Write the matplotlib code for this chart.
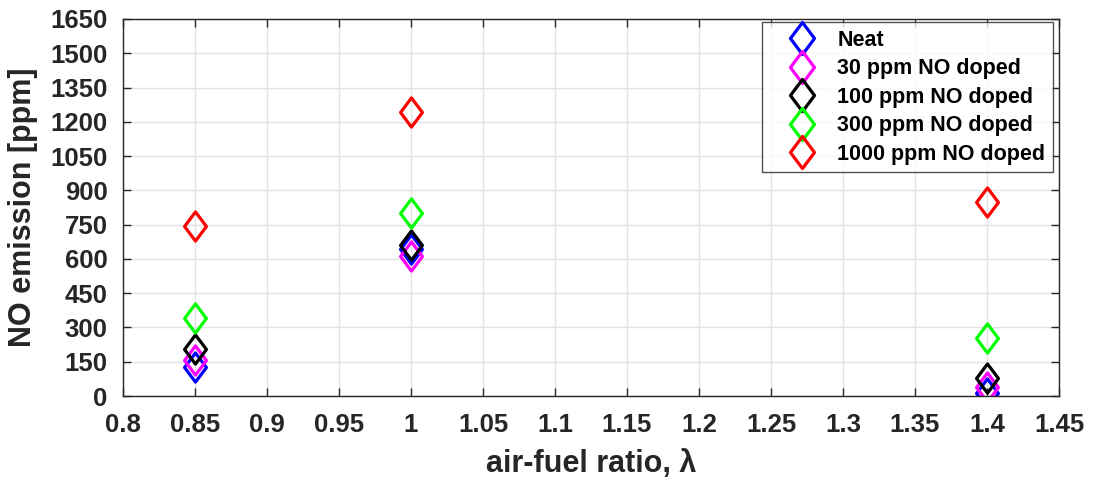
import numpy as np
import matplotlib
matplotlib.use("Agg")
import matplotlib.pyplot as plt
from matplotlib.path import Path

plt.rcParams['font.family'] = ['Liberation Sans', 'DejaVu Sans']
plt.rcParams['font.weight'] = 'bold'

# air-fuel ratio values
lam = [0.85, 1.0, 1.4]

# NO emission [ppm] per case
neat = [128, 645, 12]
ppm30 = [157, 612, 38]
ppm100 = [207, 660, 80]
ppm300 = [343, 800, 256]
ppm1000 = [745, 1245, 848]

series = [
    ("Neat", neat, "#0000ff"),
    ("30 ppm NO doped", ppm30, "#ff00ff"),
    ("100 ppm NO doped", ppm100, "#000000"),
    ("300 ppm NO doped", ppm300, "#00ff00"),
    ("1000 ppm NO doped", ppm1000, "#ff0000"),
]

xticks = [0.8, 0.85, 0.9, 0.95, 1, 1.05, 1.1, 1.15, 1.2, 1.25, 1.3, 1.35, 1.4, 1.45]
xticklabels = ["0.8", "0.85", "0.9", "0.95", "1", "1.05", "1.1", "1.15", "1.2",
               "1.25", "1.3", "1.35", "1.4", "1.45"]
yticks = list(range(0, 1651, 150))

# MATLAB-like diamond (a bit taller than wide)
diamond = Path([(0, 1), (0.75, 0), (0, -1), (-0.75, 0), (0, 1)],
               [Path.MOVETO, Path.LINETO, Path.LINETO, Path.LINETO, Path.CLOSEPOLY])

W, H = 1093, 483
fig = plt.figure(figsize=(W / 100, H / 100), dpi=100)
ax = fig.add_axes([123 / W, 1 - 396 / H, (1059 - 123) / W, (396 - 19) / H])

for name, vals, col in series:
    ax.plot(lam, vals, linestyle='none', marker=diamond, markersize=21,
            markerfacecolor='none', markeredgecolor=col, markeredgewidth=2.3,
            label=name)

ax.set_xlim(0.8, 1.45)
ax.set_ylim(0, 1650)
ax.set_xticks(xticks)
ax.set_xticklabels(xticklabels)
ax.set_yticks(yticks)
ax.grid(True, color='#e3e3e3', linewidth=1)
ax.set_axisbelow(True)
ax.tick_params(direction='in', top=True, right=True, labelsize=18.5, width=1, length=6,
               colors='#262626', labelcolor='#262626')
ax.tick_params(axis='x', pad=12)
ax.tick_params(axis='y', pad=11)
for sp in ax.spines.values():
    sp.set_color('#262626')
    sp.set_linewidth(1)

ax.set_xlabel("air-fuel ratio, λ", fontsize=22, fontweight='bold', color='#262626',
              labelpad=9)
ax.set_ylabel("NO emission [ppm]", fontsize=22, fontweight='bold', color='#262626',
              labelpad=9)

leg = ax.legend(loc='upper right', bbox_to_anchor=(1053 / W, 1 - 22 / H),
                bbox_transform=fig.transFigure, fontsize=15.5, frameon=True,
                fancybox=False, edgecolor='#262626', handletextpad=0.15,
                borderaxespad=0, borderpad=0.35, labelspacing=0.35, handlelength=3.0,
                markerscale=1.1)
leg.get_frame().set_linewidth(1)
for t in leg.get_texts():
    t.set_fontweight('bold')
    t.set_color('black')

fig.savefig("out.png", dpi=100)
